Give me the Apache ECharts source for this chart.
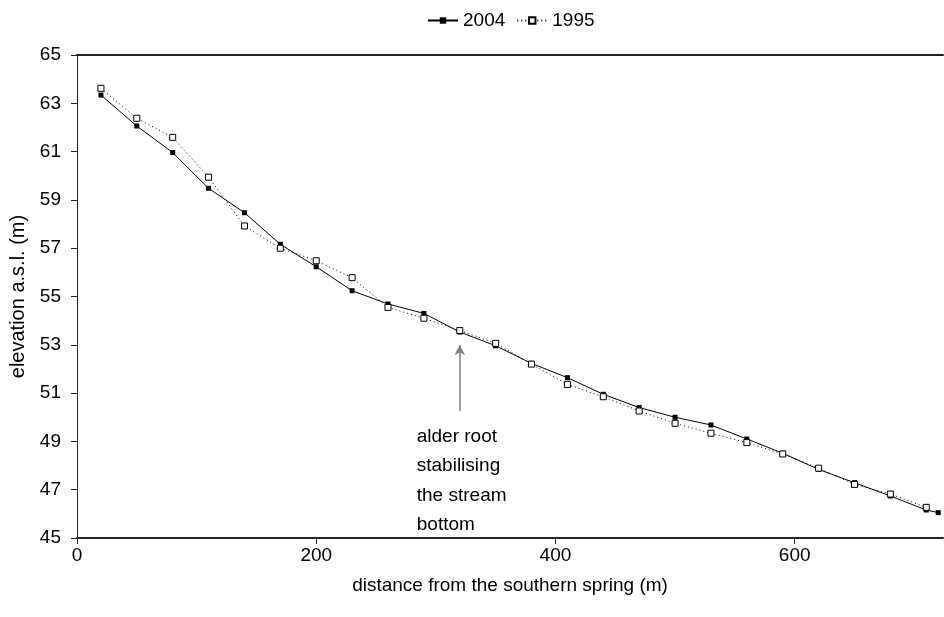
<!DOCTYPE html>
<html>
<head>
<meta charset="utf-8">
<script src="https://cdn.jsdelivr.net/npm/echarts@6/dist/echarts.min.js"></script>
<style>
html,body{margin:0;padding:0;background:#fff;}
#c{width:944px;height:617px;}
</style>
</head>
<body>
<div id="c"></div>
<script>
const dist2004 = [20,50,80,110,140,170,200,230,260,290,320,350,380,410,440,470,500,530,560,590,620,650,680,710,720];
const elev2004 = [63.34,62.06,60.96,59.48,58.47,57.16,56.23,55.24,54.69,54.30,53.53,52.96,52.23,51.64,50.95,50.40,50.00,49.68,49.10,48.51,47.84,47.29,46.74,46.16,46.05];
const dist1995 = [20,50,80,110,140,170,200,230,260,290,320,350,380,410,440,470,500,530,560,590,620,650,680,710];
const elev1995 = [63.62,62.38,61.59,59.94,57.92,57.00,56.48,55.78,54.55,54.10,53.59,53.06,52.20,51.36,50.85,50.26,49.75,49.34,48.95,48.48,47.89,47.22,46.82,46.27];
const xTicks = [0,200,400,600];
const yTicks = [45,47,49,51,53,55,57,59,61,63,65];
const annotX = 320;
const arrowFrom = 50.26, arrowTo = 52.99;
const annotText = ['alder root','stabilising','the stream','bottom'];

const font = 'Liberation Sans, Arial, sans-serif';
const chart = echarts.init(document.getElementById('c'), null, {renderer:'canvas'});
const pair = (xs, ys) => xs.map((x,i)=>[x, ys[i]]);

chart.setOption({
  animation:false,
  backgroundColor:'#fff',
  textStyle:{fontFamily:font},
  legend:{
    top:6, left:422,
    itemWidth:30, itemHeight:8, itemGap:11,
    textStyle:{fontFamily:font,fontSize:19,color:'#000'},
    data:['2004','1995']
  },
  grid:{left:77, right:1, top:55, bottom:79, containLabel:false},
  xAxis:[{
    type:'value', min:0, max:724, interval:200,
    name:'distance from the southern spring (m)', nameLocation:'middle', nameGap:38,
    nameTextStyle:{fontFamily:font,fontSize:19,color:'#000'},
    axisLine:{show:true,lineStyle:{color:'#222',width:2}},
    axisTick:{show:true,length:6,lineStyle:{color:'#222'}},
    axisLabel:{fontFamily:font,fontSize:19,color:'#000',margin:8,showMaxLabel:false},
    splitLine:{show:false}
  },{
    type:'value', position:'top', min:0, max:724,
    axisLine:{show:true,onZero:false,lineStyle:{color:'#222',width:2}},
    axisTick:{show:false}, axisLabel:{show:false}, splitLine:{show:false}
  }],
  yAxis:{
    type:'value', min:45, max:65, interval:2,
    name:'elevation a.s.l. (m)', nameLocation:'middle', nameGap:46,
    nameTextStyle:{fontFamily:font,fontSize:20,color:'#000'},
    axisLine:{show:true,lineStyle:{color:'#222',width:1}},
    axisTick:{show:true,length:6,lineStyle:{color:'#222'}},
    axisLabel:{fontFamily:font,fontSize:19,color:'#000',margin:16},
    splitLine:{show:false}
  },
  series:[{
    name:'2004', type:'line', data:pair(dist2004, elev2004),
    symbol:'rect', symbolSize:5,
    lineStyle:{color:'#000',width:1}, itemStyle:{color:'#000'},
    markLine:{
      silent:true, symbol:['none','arrow'], symbolSize:[8,10],
      lineStyle:{color:'#808080',width:1.5,type:'solid'},
      label:{show:false},
      data:[[{coord:[annotX,arrowFrom]},{coord:[annotX,arrowTo]}]]
    }
  },{
    name:'1995', type:'line', data:pair(dist1995, elev1995),
    symbol:'rect', symbolSize:6,
    lineStyle:{color:'#000',width:1,type:[1,3]},
    itemStyle:{color:'#fff',borderColor:'#000',borderWidth:1}
  }]
});

const p = chart.convertToPixel({xAxisIndex:0,yAxisIndex:0},[annotX, arrowFrom]);
chart.setOption({
  graphic:[{
    type:'text', left:p[0]-43, top:p[1]+11,
    style:{text:annotText.join('\n'), font:'19px '+font, fill:'#000', lineHeight:29.5}
  }]
});
</script>
</body>
</html>
